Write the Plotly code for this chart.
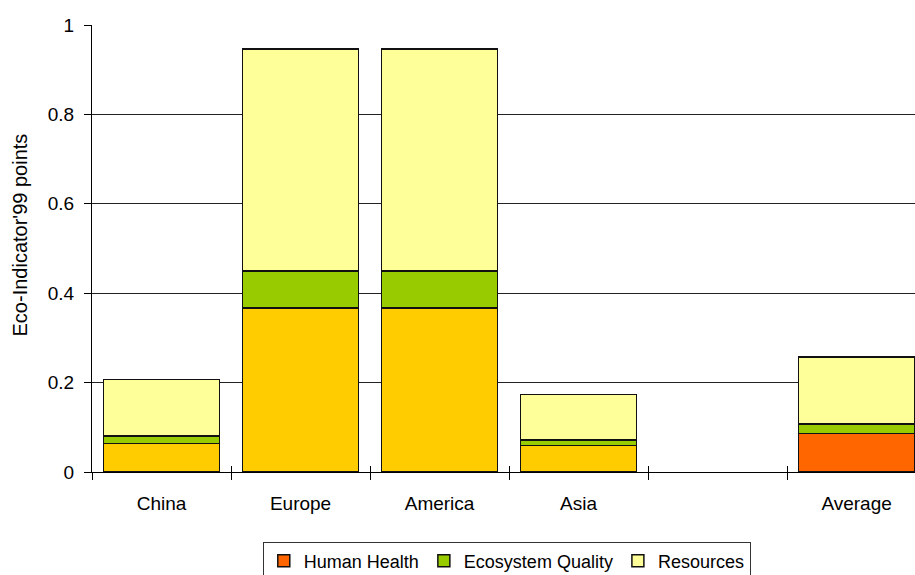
import plotly.graph_objects as go

# Eco-Indicator'99 scores per region, split by damage category
categories = ["China", "Europe", "America", "Asia", " ", "Average"]
human_health = [0.064, 0.367, 0.367, 0.059, None, 0.086]
ecosystem_quality = [0.0165, 0.083, 0.083, 0.013, None, 0.021]
resources = [0.126, 0.496, 0.496, 0.101, None, 0.150]

hh_colors = ["#FFCC00", "#FFCC00", "#FFCC00", "#FFCC00", "#FFCC00", "#FF6600"]
hh_legend_color = "#FF6600"
eq_color = "#99CC00"
res_color = "#FFFF99"

FONT = "Liberation Sans, Arial, sans-serif"
FS = 19
outline = dict(color="#111111", width=1.5)

fig = go.Figure()

# Legend entry for Human Health (the regional bars use a different shade)
fig.add_trace(go.Bar(
    x=categories, y=[None] * len(categories), name="Human Health",
    marker=dict(color=hh_legend_color, line=outline), legendgroup="hh",
))
fig.add_trace(go.Bar(
    x=categories, y=human_health, name="Human Health", showlegend=False,
    marker=dict(color=hh_colors, line=outline), legendgroup="hh",
))
fig.add_trace(go.Bar(
    x=categories, y=ecosystem_quality, name="Ecosystem Quality",
    marker=dict(color=eq_color, line=outline),
))
fig.add_trace(go.Bar(
    x=categories, y=resources, name="Resources",
    marker=dict(color=res_color, line=outline),
))
# invisible trace to carry the inner half of the category tick marks
fig.add_trace(go.Scatter(x=categories, y=[None] * len(categories),
                         xaxis="x2", showlegend=False, hoverinfo="skip"))

fig.update_layout(
    width=915, height=575,
    margin=dict(l=92, r=0, t=25, b=103, autoexpand=False),
    paper_bgcolor="white", plot_bgcolor="white",
    barmode="stack", bargap=0.166,
    font=dict(family=FONT, size=FS, color="black"),
    showlegend=True,
    legend=dict(
        orientation="h", traceorder="normal",
        xref="paper", x=0.504, xanchor="center",
        yref="container", y=0.058, yanchor="top",
        bordercolor="#333333", borderwidth=1,
        font=dict(family=FONT, size=FS - 1, color="black"),
        itemwidth=30, tracegroupgap=0,
    ),
    xaxis=dict(
        type="category", categoryorder="array", categoryarray=categories,
        range=[-0.5, 5.42],
        showline=True, linecolor="black", linewidth=1,
        ticks="outside", ticklen=7, tickcolor="black", tickwidth=1,
        tickson="boundaries", showgrid=False,
        tickfont=dict(family=FONT, size=FS, color="black"),
        ticklabelstandoff=14,
    ),
    xaxis2=dict(
        type="category", categoryorder="array", categoryarray=categories,
        overlaying="x", matches="x", range=[-0.5, 5.42],
        ticks="inside", ticklen=6, tickcolor="black", tickwidth=1,
        tickson="boundaries", showticklabels=False, showgrid=False,
        showline=False,
    ),
    yaxis=dict(
        range=[0, 1], dtick=0.2, tick0=0,
        showline=True, linecolor="black", linewidth=1,
        ticks="outside", ticklen=7, tickcolor="black", tickwidth=1,
        showgrid=True, gridcolor="#222222", gridwidth=1,
        zeroline=False,
        tickfont=dict(family=FONT, size=FS, color="black"),
        ticklabelstandoff=6,
    ),
    annotations=[dict(
        text="Eco-Indicator'99 points", textangle=-90,
        xref="paper", yref="paper", x=-0.087, y=0.53,
        xanchor="center", yanchor="middle", showarrow=False,
        font=dict(family=FONT, size=20, color="black"),
    )],
)

fig.write_html("out.html")
